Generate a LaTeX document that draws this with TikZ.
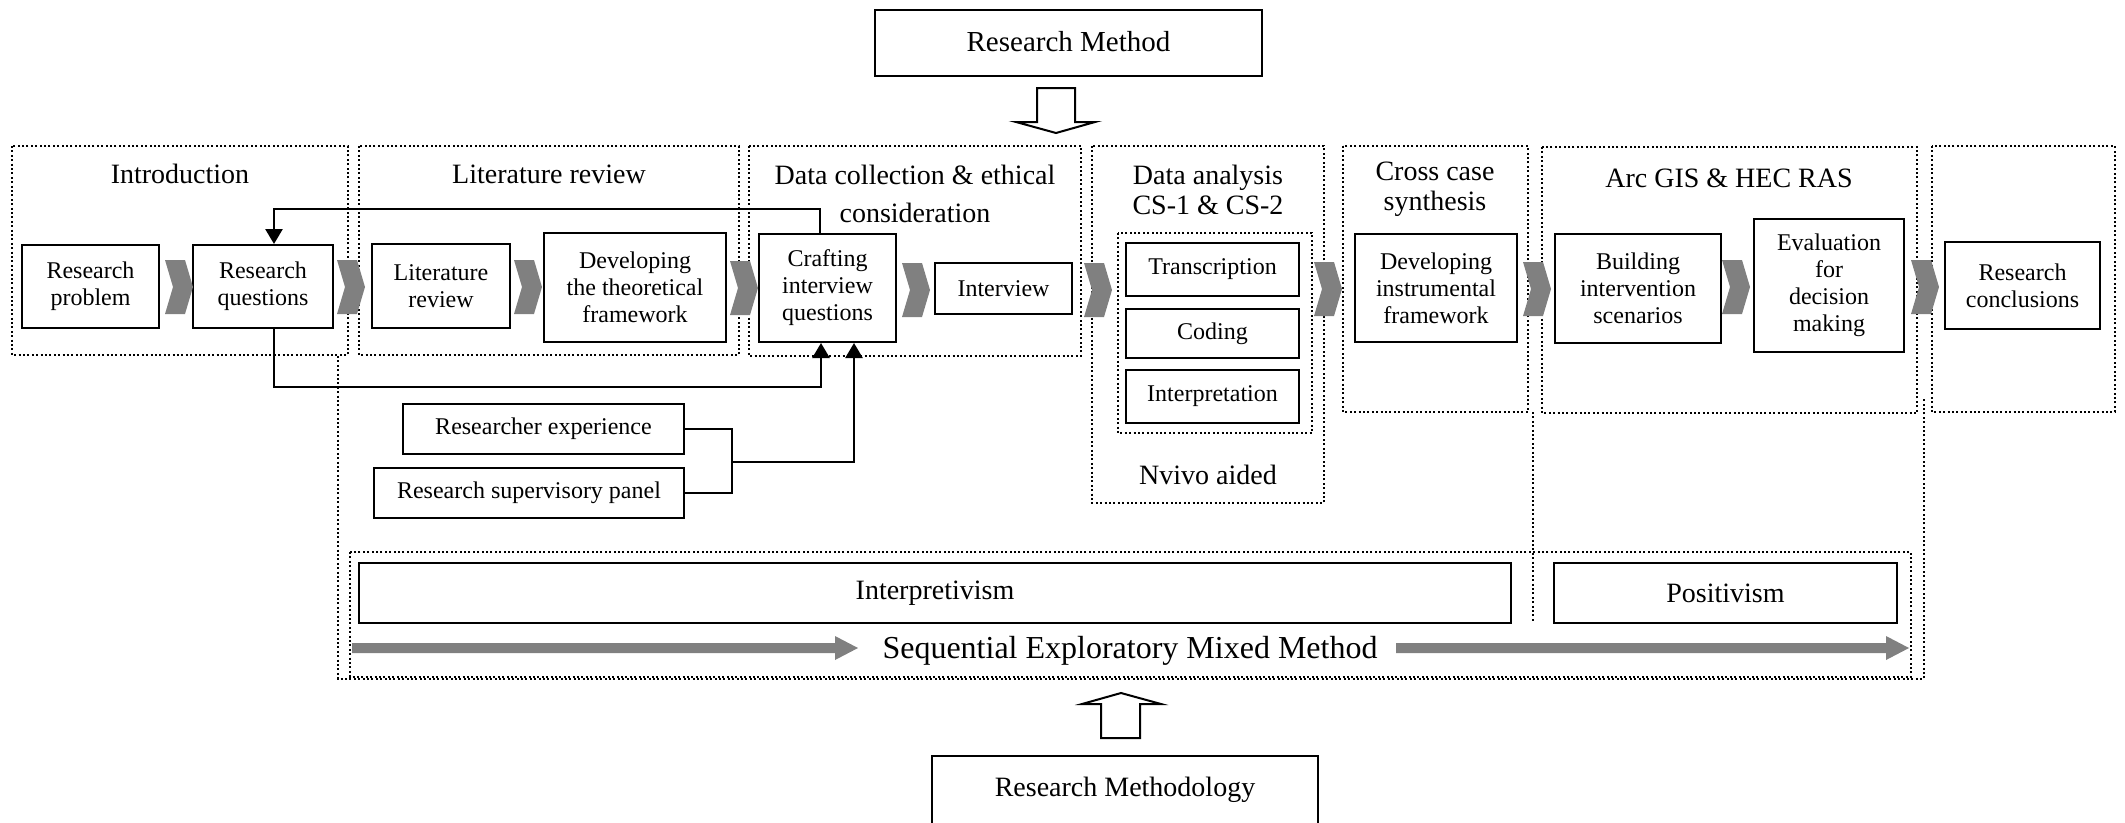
\documentclass[tikz,border=0pt]{standalone}
\usepackage{fontspec}
\setmainfont{Liberation Serif}
\usetikzlibrary{arrows.meta}
\definecolor{chevgray}{HTML}{808080}
\begin{document}
\begin{tikzpicture}[x=1pt,y=-1pt,
  box/.style={draw, line width=2pt, align=center, inner sep=0pt, font=\fontsize{24}{27}\selectfont},
  bigbox/.style={draw, line width=2pt, align=center, inner sep=0pt, font=\fontsize{28}{30}\selectfont},
  grp/.style={draw, line width=2.5pt, dash pattern=on 2pt off 2.4pt},
  title/.style={align=center, inner sep=0pt, font=\fontsize{28}{30}\selectfont},
  link/.style={draw, line width=2.2pt},
  arr/.style={draw, line width=2.6pt, -{Triangle[width=17pt,length=15pt]}},
  chev/.pic={\fill[chevgray] (-14,-27) -- (6,-27) -- (14,0) -- (6,27) -- (-14,27) -- (-6,0) -- cycle;}
]
\useasboundingbox (0,0) rectangle (2125,822);

% --- stage frames (dotted) ---
\draw[grp] (12,146) rectangle (348,355);
\draw[grp] (359,146) rectangle (739,355);
\draw[grp] (749,146) rectangle (1081,356);
\draw[grp] (1092,146) rectangle (1324,503);
\draw[grp] (1343,146) rectangle (1528,412);
\draw[grp] (1542,147) rectangle (1917,413);
\draw[grp] (1932,146) rectangle (2115,412);
\draw[grp] (1118,233) rectangle (1312,433);

% outer frame around the method band
\draw[grp] (338,356) -- (338,679) -- (1924,679) -- (1924,397);
\draw[grp] (1533,412) -- (1533,623);
\draw[grp] (350,552) rectangle (1911,677);

% --- stage titles ---
\node[title] (tintro) at (180,174) {Introduction};
\node[title] (tlit) at (549,174) {Literature review};
\node[title, font=\fontsize{28}{38}\selectfont] (tdata) at (915,194) {Data collection \& ethical\\consideration};
\node[title] (tana) at (1208,189.5) {Data analysis\\CS-1 \& CS-2};
\node[title] (tcross) at (1435,189) {Cross case\\synthesis};
\node[title] (tarc) at (1729,178) {Arc GIS \& HEC RAS};
\node[title] (tnvivo) at (1208,475) {Nvivo aided};

% --- process boxes ---
\node[box, minimum width=137pt, minimum height=83pt] (rp) at (90.5,286.5) {Research\\problem};
\node[box, minimum width=140pt, minimum height=83pt] (rq) at (263,286.5) {Research\\questions};
\node[box, minimum width=138pt, minimum height=84pt] (lr) at (441,286) {Literature\\review};
\node[box, minimum width=182pt, minimum height=109pt] (dtf) at (635,287.5) {Developing\\the theoretical\\framework};
\node[box, minimum width=137pt, minimum height=108pt] (ciq) at (827.5,288) {Crafting\\interview\\questions};
\node[box, minimum width=137pt, minimum height=51pt] (iv) at (1003.5,288.5) {Interview};
\node[box, minimum width=173pt, minimum height=53pt] (tr) at (1212.5,269.5) {Transcription};
\node[box, minimum width=173pt, minimum height=49pt] (cod) at (1212.5,333.5) {Coding};
\node[box, minimum width=173pt, minimum height=53pt] (ipr) at (1212.5,396.5) {Interpretation};
\node[box, minimum width=162pt, minimum height=108pt] (dif) at (1436,288) {Developing\\instrumental\\framework};
\node[box, minimum width=166pt, minimum height=109pt] (bis) at (1638,288.5) {Building\\intervention\\scenarios};
\node[box, minimum width=150pt, minimum height=133pt] (edm) at (1829,285.5) {Evaluation\\for\\decision\\making};
\node[box, minimum width=155pt, minimum height=87pt] (rc) at (2022.5,285.5) {Research\\conclusions};
\node[box, minimum width=281pt, minimum height=50pt] (re) at (543.5,429) {Researcher experience};
\node[box, minimum width=310pt, minimum height=50pt] (rsp) at (529,493) {Research supervisory panel};

% --- flow chevrons ---
\pic at (179,287) {chev};
\pic at (351,287) {chev};
\pic at (528,287) {chev};
\pic at (744,288) {chev};
\pic at (916,290) {chev};
\pic at (1098,290) {chev};
\pic at (1328,289) {chev};
\pic at (1537,289) {chev};
\pic at (1736,287) {chev};
\pic at (1925,287) {chev};

% --- feedback and input connectors ---
\coordinate (fbA) at (820,209);
\coordinate (fbB) at (274,209);
\draw[arr] (ciq.north -| fbA) -- (fbA) -- (fbB) -- (rq.north -| fbB);
\coordinate (lowA) at (821,387);
\draw[arr] (rq.south -| fbB) |- (lowA) -- (ciq.south -| lowA);
\coordinate (jn) at (732,462);
\coordinate (jt) at (854,462);
\draw[link] (re.east) -| (jn) |- (rsp.east);
\draw[arr] (jn) -- (jt) -- (ciq.south -| jt);

% --- paradigm band ---
\node[bigbox, minimum width=1152pt, minimum height=60pt] (interp) at (935,593) {Interpretivism};
\node[bigbox, minimum width=343pt, minimum height=60pt] (posit) at (1725.5,593) {Positivism};
\node[title, font=\fontsize{32}{34}\selectfont] (seq) at (1130,651) {Sequential Exploratory Mixed Method};
\fill[chevgray] (352,643) -- (835,643) -- (835,636) -- (858,648) -- (835,660) -- (835,653) -- (352,653) -- cycle;
\fill[chevgray] (1396,643) -- (1886,643) -- (1886,636) -- (1909,648) -- (1886,660) -- (1886,653) -- (1396,653) -- cycle;

% --- method and methodology ---
\node[bigbox, minimum width=387pt, minimum height=66pt, font=\fontsize{29}{31}\selectfont] (rm) at (1068.5,43) {\raisebox{3pt}{Research Method}};
\node[bigbox, minimum width=386pt, minimum height=68pt] (rmy) at (1125,790) {Research Methodology};
\draw[line width=2pt] (1037,88) -- (1075,88) -- (1075,122) -- (1095,122) -- (1056,133) -- (1016,122) -- (1037,122) -- cycle;
\draw[line width=2pt] (1101,738) -- (1140,738) -- (1140,704) -- (1161,704) -- (1121,693) -- (1082,704) -- (1101,704) -- cycle;
\end{tikzpicture}
\end{document}
